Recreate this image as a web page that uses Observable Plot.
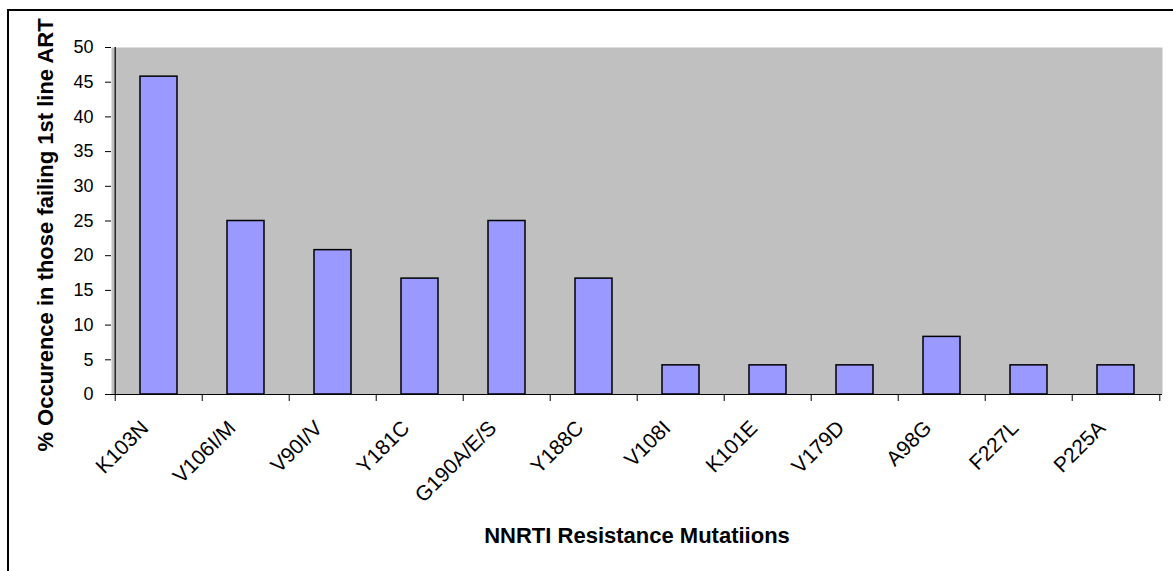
<!DOCTYPE html>
<html>
<head>
<meta charset="utf-8">
<script src="https://cdn.jsdelivr.net/npm/d3@7"></script>
<script src="https://cdn.jsdelivr.net/npm/@observablehq/plot@0.6"></script>
<style>
  html, body { margin: 0; padding: 0; background: #fff; overflow: hidden; }
  #wrap { position: relative; width: 1173px; height: 571px; }
  #border { position: absolute; left: 7px; top: 9px; width: 2000px; height: 2000px;
            border-left: 2px solid #000; border-top: 2px solid #000; pointer-events: none; }
</style>
</head>
<body>
<div id="wrap"><div id="border"></div></div>
<script>
const categories = ["K103N", "V106I/M", "V90I/V", "Y181C", "G190A/E/S", "Y188C", "V108I", "K101E", "V179D", "A98G", "F227L", "P225A"];
const values = [45.8, 25, 20.8, 16.7, 25, 16.7, 4.2, 4.2, 4.2, 8.3, 4.2, 4.2];
const yTicks = [0, 5, 10, 15, 20, 25, 30, 35, 40, 45, 50];
const yTitle = "% Occurence in those failing 1st line ART";
const xTitle = "NNRTI Resistance Mutatiions";

const data = categories.map((c, i) => ({cat: c, val: values[i]}));

const W = 1173, H = 571;
const mL = 111, mR = 11, mT = 47, mB = 177;
const step = (W - mL - mR) / categories.length;
const font = "'Liberation Sans', Arial, sans-serif";
const blank = () => "";

const chart = Plot.plot({
  width: W, height: H,
  marginLeft: mL, marginRight: mR, marginTop: mT, marginBottom: mB,
  style: {fontFamily: font, color: "#000", background: "transparent", overflow: "visible"},
  x: {domain: categories, paddingInner: 0.58, paddingOuter: 0.29},
  y: {domain: [0, 50]},
  marks: [
    Plot.frame({fill: "#c0c0c0", stroke: null}),
    Plot.barY(data, {x: "cat", y: "val", fill: "#9999ff", stroke: "#000", strokeWidth: 1.5}),
    Plot.ruleY([0], {stroke: "#000", strokeWidth: 1.2}),
    Plot.ruleX([categories[0]], {dx: -step / 2, stroke: "#000", strokeWidth: 1.2}),
    Plot.axisY({ticks: yTicks, tickSize: 6, tickPadding: 12, fontSize: 18, label: null, stroke: "#000"}),
    Plot.axisX(categories, {tickSize: 7, dx: -step / 2, tickFormat: blank, label: null, stroke: "#000"}),
    Plot.axisX([categories[categories.length - 1]], {tickSize: 7, dx: step / 2, tickFormat: blank, label: null, stroke: "#000"}),
    Plot.axisX({tickSize: 0, tickRotate: -45, tickPadding: 30, dx: -14, fontSize: 21, label: null}),
    Plot.text([yTitle], {frameAnchor: "left", textAnchor: "middle", rotate: -90, dx: -66, dy: 14, fontSize: 22, fontWeight: "bold", fill: "#000"}),
    Plot.text([xTitle], {frameAnchor: "bottom", dy: 148, fontSize: 22, fontWeight: "bold", fill: "#000"})
  ]
});
document.getElementById("wrap").prepend(chart);
</script>
</body>
</html>
